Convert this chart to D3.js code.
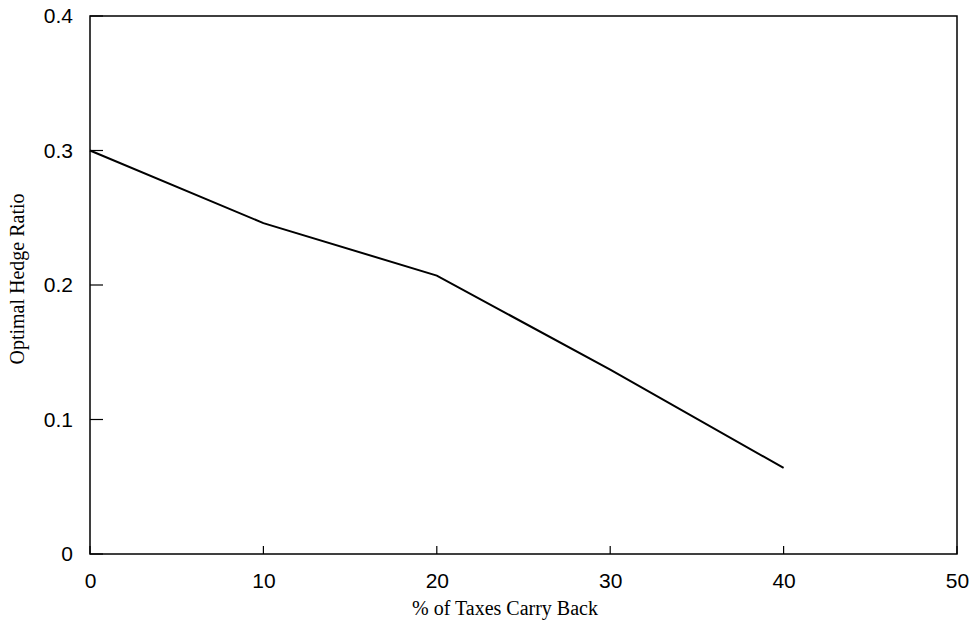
<!DOCTYPE html>
<html>
<head>
<meta charset="utf-8">
<script src="https://cdn.jsdelivr.net/npm/d3@7"></script>
<style>
  body { margin: 0; background: #fff; }
  .tick text { font-family: "Liberation Sans", Arial, sans-serif; font-size: 21px; fill: #000; }
  .axis-title { font-family: "Liberation Serif", "Times New Roman", serif; font-size: 20px; fill: #000; }
</style>
</head>
<body>
<div id="chart"></div>
<script>
// % of taxes carried back vs optimal hedge ratio
var carryBack = [0, 10, 20, 30, 40];
var hedgeRatio = [0.300, 0.246, 0.207, 0.137, 0.064];
var xTicks = [0, 10, 20, 30, 40, 50];
var yTicks = [0, 0.1, 0.2, 0.3, 0.4];

var width = 977, height = 626;
var margin = { top: 16, right: 20, bottom: 72, left: 90 };
var innerW = width - margin.left - margin.right,
  innerH = height - margin.top - margin.bottom;

var svg = d3
  .select("#chart")
  .append("svg")
  .attr("width", width)
  .attr("height", height);

var g = svg
  .append("g")
  .attr("transform", "translate(" + margin.left + "," + margin.top + ")");

var x = d3.scaleLinear().domain([0, 50]).range([0, innerW]);
var y = d3.scaleLinear().domain([0, 0.4]).range([innerH, 0]);

// frame
g.append("rect")
  .attr("width", innerW)
  .attr("height", innerH)
  .attr("fill", "none")
  .attr("stroke", "#000")
  .attr("stroke-width", 1.5);

// axes: labels from d3, tick marks drawn inward by hand
var xAxis = g
  .append("g")
  .attr("transform", "translate(0," + innerH + ")")
  .call(d3.axisBottom(x).tickValues(xTicks).tickSize(0).tickPadding(19).tickFormat(d3.format("d")));
xAxis.select(".domain").remove();

var yAxis = g
  .append("g")
  .call(
    d3.axisLeft(y).tickValues(yTicks).tickSize(0).tickPadding(17).tickFormat(function (d) {
      return d === 0 ? "0" : d3.format(".1f")(d);
    })
  );
yAxis.select(".domain").remove();

g.selectAll(".xtick")
  .data(xTicks)
  .enter()
  .append("line")
  .attr("class", "xtick")
  .attr("x1", function (d) { return x(d); })
  .attr("x2", function (d) { return x(d); })
  .attr("y1", innerH)
  .attr("y2", innerH - 8)
  .attr("stroke", "#000")
  .attr("stroke-width", 1.2);

g.selectAll(".ytick")
  .data(yTicks)
  .enter()
  .append("line")
  .attr("class", "ytick")
  .attr("x1", 0)
  .attr("x2", 13)
  .attr("y1", function (d) { return y(d); })
  .attr("y2", function (d) { return y(d); })
  .attr("stroke", "#000")
  .attr("stroke-width", 1.2);

// the data line
var line = d3
  .line()
  .x(function (d, i) { return x(carryBack[i]); })
  .y(function (d) { return y(d); });

g.append("path")
  .datum(hedgeRatio)
  .attr("d", line)
  .attr("fill", "none")
  .attr("stroke", "#000")
  .attr("stroke-width", 2);

// axis titles
svg.append("text")
  .attr("class", "axis-title")
  .attr("x", 505)
  .attr("y", 615)
  .attr("text-anchor", "middle")
  .text("% of Taxes Carry Back");

svg.append("text")
  .attr("class", "axis-title")
  .attr("transform", "translate(24,279) rotate(-90)")
  .attr("text-anchor", "middle")
  .text("Optimal Hedge Ratio");
</script>
</body>
</html>
